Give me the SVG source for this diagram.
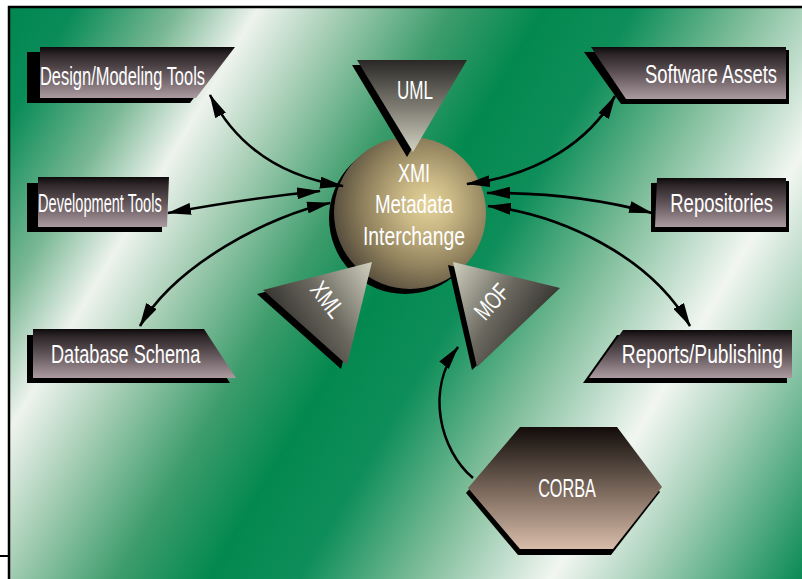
<svg xmlns="http://www.w3.org/2000/svg" width="802" height="579" viewBox="0 0 802 579">
  <defs>
    <!-- diagonal banded backdrop -->
    <linearGradient id="bg" gradientUnits="userSpaceOnUse" x1="0" y1="0" x2="849" y2="500">
      <stop offset="0" stop-color="#00864f"/>
      <stop offset="0.07" stop-color="#0a8c58"/>
      <stop offset="0.16" stop-color="#7ab894"/>
      <stop offset="0.23" stop-color="#eef3ee"/>
      <stop offset="0.30" stop-color="#a8cfb6"/>
      <stop offset="0.40" stop-color="#3d9c6c"/>
      <stop offset="0.48" stop-color="#03894f"/>
      <stop offset="0.56" stop-color="#0e8e5a"/>
      <stop offset="0.66" stop-color="#7cbc98"/>
      <stop offset="0.78" stop-color="#f2f6f2"/>
      <stop offset="0.86" stop-color="#a6d0b8"/>
      <stop offset="1" stop-color="#0a8a55"/>
    </linearGradient>
    <!-- label plates -->
    <linearGradient id="plate" x1="0" y1="0" x2="0" y2="1">
      <stop offset="0" stop-color="#0d0a0b"/>
      <stop offset="0.15" stop-color="#2e2628"/>
      <stop offset="0.5" stop-color="#5e5256"/>
      <stop offset="1" stop-color="#ab9ba1"/>
    </linearGradient>
    <!-- central sphere -->
    <radialGradient id="ball" cx="0.6" cy="0.45" r="0.7" fx="0.62" fy="0.44">
      <stop offset="0" stop-color="#e6d49a"/>
      <stop offset="0.25" stop-color="#c8b684"/>
      <stop offset="0.6" stop-color="#8e805c"/>
      <stop offset="0.85" stop-color="#5c5240"/>
      <stop offset="1" stop-color="#3a3428"/>
    </radialGradient>
    <!-- triangles: dark at the outer side, pale toward the sphere -->
    <linearGradient id="triDown" x1="0" y1="0" x2="0" y2="1">
      <stop offset="0" stop-color="#2a2826"/>
      <stop offset="0.5" stop-color="#7c7a70"/>
      <stop offset="1" stop-color="#d2d2c2"/>
    </linearGradient>
    <linearGradient id="triLeft" x1="0" y1="0.6" x2="1" y2="0">
      <stop offset="0" stop-color="#242220"/>
      <stop offset="0.5" stop-color="#6a685e"/>
      <stop offset="1" stop-color="#d0d0c0"/>
    </linearGradient>
    <linearGradient id="triRight" x1="1" y1="0.6" x2="0" y2="0">
      <stop offset="0" stop-color="#242220"/>
      <stop offset="0.5" stop-color="#6a685e"/>
      <stop offset="1" stop-color="#d0d0c0"/>
    </linearGradient>
    <linearGradient id="hex" x1="0" y1="0" x2="0" y2="1">
      <stop offset="0" stop-color="#120c0a"/>
      <stop offset="0.3" stop-color="#4c4038"/>
      <stop offset="0.6" stop-color="#8a7668"/>
      <stop offset="1" stop-color="#d8bcaa"/>
    </linearGradient>
    <marker id="head" viewBox="0 0 24 12" markerUnits="userSpaceOnUse" markerWidth="24" markerHeight="12" refX="23" refY="6" orient="auto-start-reverse">
      <path d="M0,0 L24,6 L0,12 Z" fill="#000"/>
    </marker>
    <style>
      .shadow { fill: #000; }
      .plate { fill: url(#plate); }
      /* condensed lettering: glyphs squeezed horizontally by the 0.75 scale on each label */
      .lbl { fill: #fff; font-family: "Liberation Sans", Arial, sans-serif; font-size: 25px; }
      .mid { text-anchor: middle; }
      .end { text-anchor: end; }
      .wire { fill: none; stroke: #000; stroke-width: 2.6; marker-start: url(#head); marker-end: url(#head); }
      .one { marker-start: none; }
    </style>
  </defs>

  <!-- page and frame -->
  <rect x="0" y="0" width="802" height="579" fill="#fff"/>
  <rect x="9" y="7" width="793" height="572" fill="url(#bg)"/>
  <path d="M9,579 V7 H802" fill="none" stroke="#000" stroke-width="2.5"/>
  <path d="M0,556 H9" fill="none" stroke="#000" stroke-width="2"/>

  <!-- central sphere -->
  <g id="xmi">
    <circle cx="405" cy="218" r="76" class="shadow"/>
    <circle cx="410" cy="213" r="76" fill="url(#ball)"/>
    <text class="lbl mid" transform="translate(414,182) scale(0.75,1)" font-size="26" textLength="43" lengthAdjust="spacingAndGlyphs">XMI</text>
    <text class="lbl mid" transform="translate(414,213) scale(0.75,1)" font-size="26" textLength="104" lengthAdjust="spacingAndGlyphs">Metadata</text>
    <text class="lbl mid" transform="translate(414,245) scale(0.75,1)" font-size="26" textLength="136" lengthAdjust="spacingAndGlyphs">Interchange</text>
  </g>

  <g id="uml">
    <polygon class="shadow" points="352,65 462,65 407,157"/>
    <polygon points="357,60 467,60 413,152" fill="url(#triDown)"/>
    <text class="lbl mid" transform="translate(415,99) scale(0.75,1)" textLength="48" lengthAdjust="spacingAndGlyphs">UML</text>
  </g>

  <g id="xml">
    <polygon class="shadow" points="366,266 257,294 341,369"/>
    <polygon points="372,262 263,290 347,365" fill="url(#triLeft)"/>
    <text class="lbl mid" transform="translate(327,300) rotate(52) scale(0.75,1)" y="8" font-size="23" textLength="51" lengthAdjust="spacingAndGlyphs">XML</text>
  </g>

  <g id="mof">
    <polygon class="shadow" points="448,265 555,291 472,370"/>
    <polygon points="453,262 560,288 477,367" fill="url(#triRight)"/>
    <text class="lbl mid" transform="translate(492,302) rotate(-48) scale(0.75,1)" y="8" font-size="23" textLength="51" lengthAdjust="spacingAndGlyphs">MOF</text>
  </g>

  <!-- label plates, left column -->
  <g id="design-tools">
    <polygon class="shadow" points="27,52 228,52 190,103 27,103"/>
    <polygon class="plate" points="40,47 235,47 196,98 40,98"/>
    <text class="lbl" transform="translate(40,85) scale(0.75,1)" textLength="220" lengthAdjust="spacingAndGlyphs">Design/Modeling Tools</text>
  </g>
  <g id="development-tools">
    <polygon class="shadow" points="27,183 162,183 162,232 27,232"/>
    <polygon class="plate" points="38,177 169,177 167,227 38,227"/>
    <text class="lbl" transform="translate(38,212) scale(0.75,1)" font-size="24" textLength="165" lengthAdjust="spacingAndGlyphs">Development Tools</text>
  </g>
  <g id="database-schema">
    <polygon class="shadow" points="27,335 200,335 230,383 27,383"/>
    <polygon class="plate" points="33,329 204,329 236,378 33,378"/>
    <text class="lbl" transform="translate(51,363) scale(0.75,1)" textLength="199" lengthAdjust="spacingAndGlyphs">Database Schema</text>
  </g>

  <!-- label plates, right column -->
  <g id="software-assets">
    <polygon class="shadow" points="584,52 789,50 789,104 621,104"/>
    <polygon class="plate" points="591,47 786,47 786,99 626,99"/>
    <text class="lbl end" transform="translate(777,83) scale(0.75,1)" textLength="176" lengthAdjust="spacingAndGlyphs">Software Assets</text>
  </g>
  <g id="repositories">
    <polygon class="shadow" points="651,183 789,181 789,232 651,232"/>
    <polygon class="plate" points="657,178 786,178 786,227 655,227"/>
    <text class="lbl end" transform="translate(773,212) scale(0.75,1)" textLength="137" lengthAdjust="spacingAndGlyphs">Repositories</text>
  </g>
  <g id="reports-publishing">
    <polygon class="shadow" points="617,335 787,335 787,383 583,383"/>
    <polygon class="plate" points="623,330 792,330 792,378 589,378"/>
    <text class="lbl end" transform="translate(783,363) scale(0.75,1)" textLength="215" lengthAdjust="spacingAndGlyphs">Reports/Publishing</text>
  </g>

  <g id="corba">
    <polygon class="shadow" points="518,432 615,432 660,492 611,555 518,555 466,493"/>
    <polygon points="520,427 617,427 662,487 613,549 520,549 468,488" fill="url(#hex)"/>
    <text class="lbl mid" transform="translate(567,497) scale(0.75,1)" textLength="77" lengthAdjust="spacingAndGlyphs">CORBA</text>
  </g>

  <!-- connectors -->
  <g id="connectors">
    <path class="wire" d="M210,95 Q250,172 343,186"/>
    <path class="wire" d="M168,213 Q250,198 320,191"/>
    <path class="wire" d="M140,326 C175,265 270,215 330,203"/>
    <path class="wire" d="M615,96 C590,140 540,175 467,184"/>
    <path class="wire" d="M487,193 Q575,192 652,213"/>
    <path class="wire" d="M488,206 C560,215 650,255 690,326"/>
    <path class="wire one" d="M473,478 C440,450 425,390 458,347"/>
  </g>
</svg>
